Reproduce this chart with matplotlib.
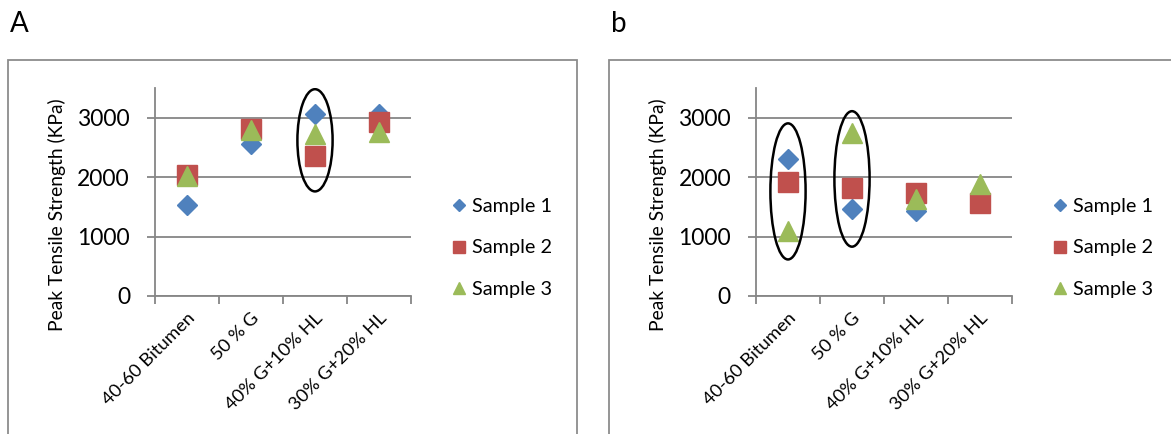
import matplotlib
matplotlib.use("Agg")
import matplotlib.pyplot as plt
import matplotlib.transforms as mtransforms
from matplotlib.patches import Ellipse, Rectangle

plt.rcParams['font.family'] = ['Lato', 'DejaVu Sans']

categories = ["40-60 Bitumen", "50 % G", "40% G+10% HL", "30% G+20% HL"]
series_names = ["Sample 1", "Sample 2", "Sample 3"]

# panel A
a_sample1 = [1530, 2550, 3070, 3060]
a_sample2 = [2040, 2810, 2350, 2920]
a_sample3 = [2020, 2790, 2730, 2760]

# panel b
b_sample1 = [2310, 1460, 1430, 1560]
b_sample2 = [1910, 1810, 1730, 1570]
b_sample3 = [1100, 2740, 1630, 1880]

# circled groups: (category index, centre, height)
a_rings = [(2, 2620, 1720)]
b_rings = [(0, 1760, 2290), (1, 1970, 2280)]

colors = ["#4F81BD", "#C0504D", "#9BBB59"]
markers = ["D", "s", "^"]
msizes = [10, 14, 14]
grey = "#868686"

W, H = 1171, 434
fig = plt.figure(figsize=(W / 100, H / 100), dpi=100)

# panel frames
for x0, x1 in [(8, 577), (609, 1180)]:
    fig.patches.append(Rectangle((x0 / W, -0.05), (x1 - x0) / W, 1 - 60 / H + 0.05,
                                 transform=fig.transFigure, fill=False,
                                 edgecolor="#8c8c8c", lw=1.3))

fig.text(10 / W, 1 - 24 / H, "A", fontsize=20, va="center", ha="left")
fig.text(611 / W, 1 - 24 / H, "b", fontsize=20, va="center", ha="left")

label_shift = mtransforms.ScaledTranslation(-8 / 100, -7 / 100, fig.dpi_scale_trans)


def draw_panel(left, data, rings, leg_x):
    ax = fig.add_axes([left / W, 1 - 296 / H, 256 / W, 208 / H])
    xs = list(range(len(categories)))
    for vals, name, c, m, ms in zip(data, series_names, colors, markers, msizes):
        ax.plot(xs, vals, linestyle="none", marker=m, markersize=ms,
                color=c, label=name, zorder=3)
    for idx, cy, h in rings:
        ax.add_patch(Ellipse((idx, cy), 0.55, h, fill=False, edgecolor="black",
                             lw=1.8, zorder=4))
    ax.set_xlim(-0.5, len(categories) - 0.5)
    ax.set_ylim(0, 3500)
    ax.set_yticks([0, 1000, 2000, 3000])
    ax.set_xticks([i - 0.5 for i in range(len(categories) + 1)])
    ax.set_xticklabels([])
    ax.set_xticks(xs, minor=True)
    ax.set_xticklabels(categories, minor=True, rotation=45, ha="right",
                       rotation_mode="anchor", fontsize=13.3)
    for lab in ax.get_xticklabels(minor=True):
        lab.set_transform(lab.get_transform() + label_shift)
    ax.tick_params(axis="x", which="minor", length=0, pad=10)
    ax.tick_params(axis="x", which="major", length=6, width=1.3, color=grey)
    ax.tick_params(axis="y", length=6, width=1.3, color=grey, labelsize=16.5, pad=12)
    ax.grid(axis="y", color=grey, lw=1.3)
    ax.set_axisbelow(True)
    for s in ["top", "right"]:
        ax.spines[s].set_visible(False)
    for s in ["left", "bottom"]:
        ax.spines[s].set_color(grey)
        ax.spines[s].set_linewidth(1.3)
    ax.set_ylabel("Peak Tensile Strength (KPa)", fontsize=13.9)
    ax.yaxis.set_label_coords(-89 / 256, 0.39)
    ax.legend(loc="center left", bbox_to_anchor=(leg_x / W, 1 - 248 / H),
              bbox_transform=fig.transFigure, frameon=False, fontsize=14.3,
              markerscale=0.65, handlelength=0.9, handletextpad=0.2,
              labelspacing=1.25, borderpad=0, borderaxespad=0)
    return ax


draw_panel(155, [a_sample1, a_sample2, a_sample3], a_rings, 450)
draw_panel(756, [b_sample1, b_sample2, b_sample3], b_rings, 1051)

fig.savefig("out.png", dpi=100)
